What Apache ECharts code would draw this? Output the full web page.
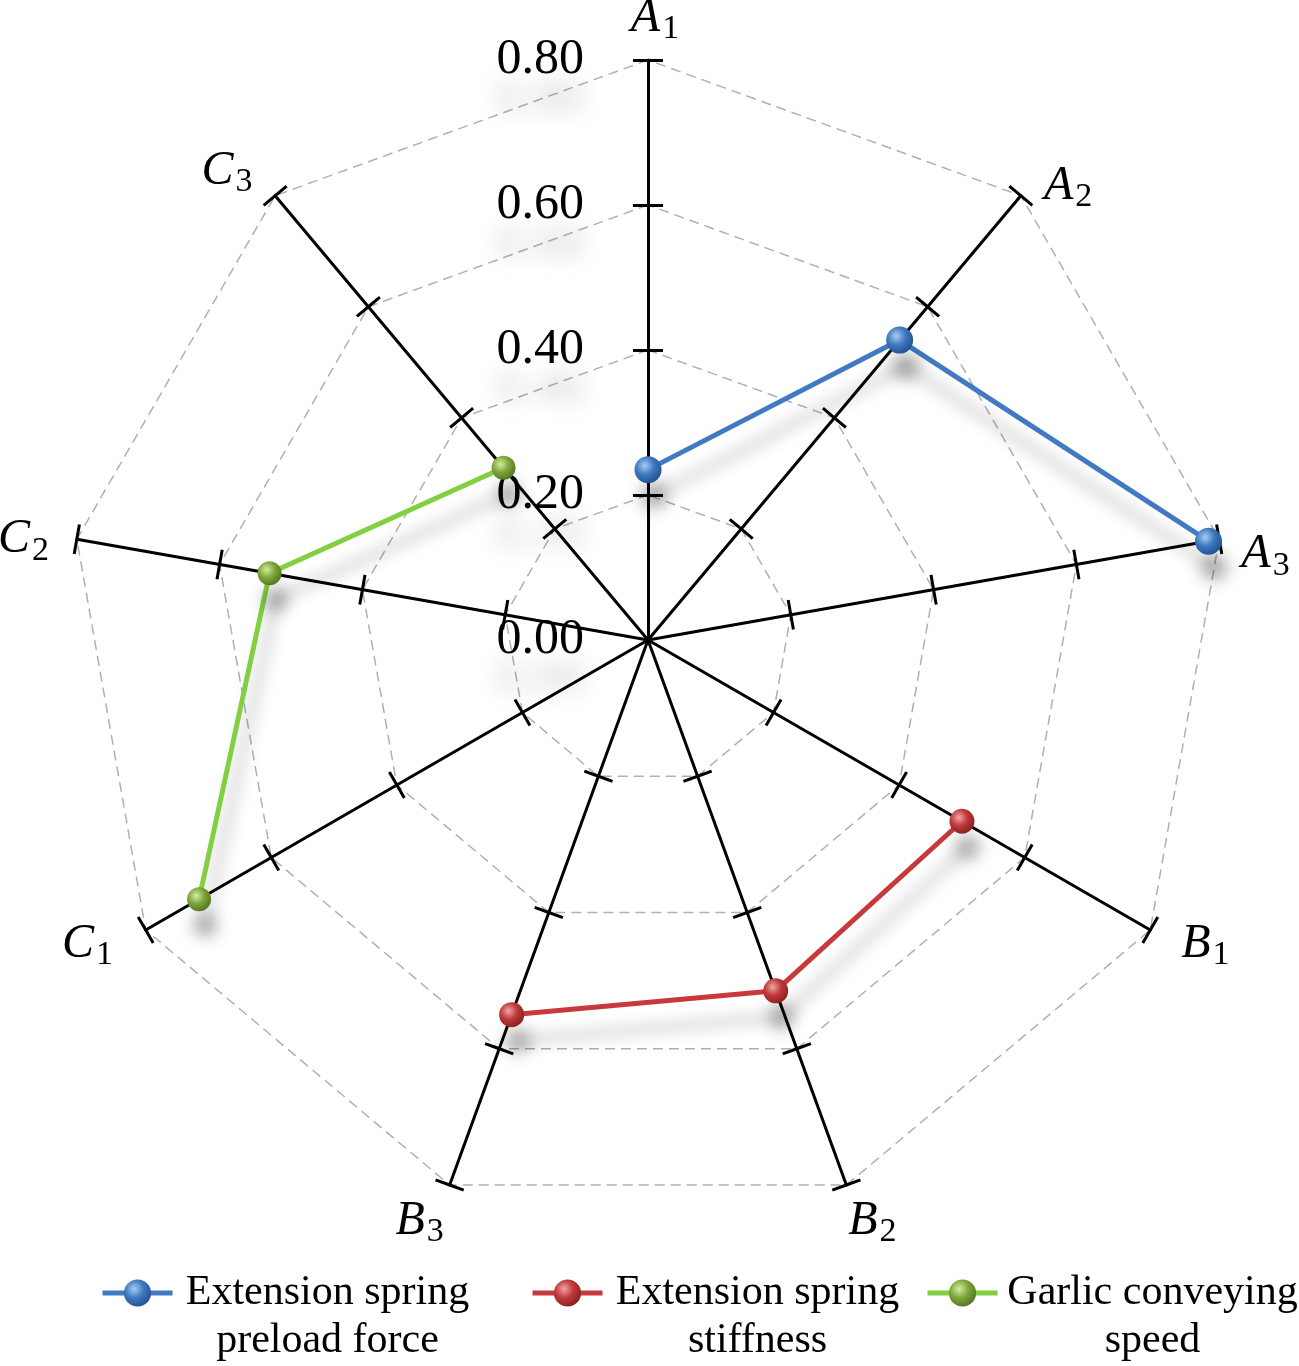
<!DOCTYPE html>
<html><head><meta charset="utf-8">
<script src="https://cdn.jsdelivr.net/npm/echarts@6/dist/echarts.min.js"></script>
<style>html,body{margin:0;padding:0;background:#fff}#c{width:1299px;height:1366px}</style>
</head><body><div id="c"></div>
<script>
// ---- data ----
const indicators = ['A1', 'A2', 'A3', 'B1', 'B2', 'B3', 'C1', 'C2', 'C3'];
const tickValues = [0.2, 0.4, 0.6, 0.8];
const seriesNames = ['Extension spring\npreload force', 'Extension spring\nstiffness', 'Garlic conveying\nspeed'];
const preloadForce    = [0.235, 0.54, 0.785, null, null, null, null, null, null];
const springStiffness = [null, null, null, 0.50, 0.515, 0.55, null, null, null];
const conveyingSpeed  = [null, null, null, null, null, null, 0.715, 0.53, 0.31];

// ---- layout / style ----
const FONT = "'Liberation Serif','Times New Roman',serif";
const CENTER = [648, 640];
const RADIUS = 580;
const MAXV = 0.8;
// small per-label nudges of the axis names (px, [dx, dy])
const nameNudge = [[7, 4], [19, 26], [3, 25], [17, -6], [11, -3], [-15, -3], [-20, -6], [-10, 10], [-20, 11]];

function nudgePadding(d) {
  const dx = d[0], dy = d[1];
  return [Math.max(0, 2 * dy), Math.max(0, -2 * dx), Math.max(0, -2 * dy), Math.max(0, 2 * dx)];
}

// radar lays indicators counter-clockwise: reorder so they read clockwise
const order = [0].concat(indicators.map((_, i) => i).slice(1).reverse());

function ball(c0, c1, c2) {
  return { type: 'radial', x: 0.38, y: 0.35, r: 0.75,
    colorStops: [{ offset: 0, color: c0 }, { offset: 0.45, color: c1 }, { offset: 1, color: c2 }] };
}
const shadow = { shadowColor: 'rgba(0,0,0,0.3)', shadowBlur: 16, shadowOffsetX: 6, shadowOffsetY: 26 };

const radarInd = order.map((k, i) => ({
  name: indicators[k], min: 0, max: MAXV,
  axisLabel: { show: i === 0 },
  nameTextStyle: { padding: nudgePadding(nameNudge[k]) }
}));
const radarInd2 = order.map(k => ({ name: indicators[k], min: 0, max: MAXV }));

const chart = echarts.init(document.getElementById('c'), null, { renderer: 'canvas' });

function legendFor(i, left) {
  return {
    data: [seriesNames[i]], left: left, top: 1272, padding: 0,
    itemWidth: 70, itemHeight: 34, selectedMode: false,
    lineStyle: { width: 5 },
    formatter: n => n.split('\n').map(s => '{a|' + s + '}').join('\n'),
    textStyle: {
      color: '#000', fontFamily: FONT, fontSize: 42, padding: [48, 0, 0, 0],
      rich: { a: { width: 300, align: 'center', fontFamily: FONT, fontSize: 42, lineHeight: 48, color: '#000' } }
    }
  };
}

chart.setOption({
  backgroundColor: '#fff',
  animation: false,
  radar: [{
    center: CENTER, radius: RADIUS, startAngle: 90, splitNumber: 4, shape: 'polygon',
    indicator: radarInd,
    nameGap: 44,
    axisName: {
      color: '#000', fontFamily: FONT, fontSize: 48, align: 'center', verticalAlign: 'middle',
      formatter: n => '{i|' + n[0] + '}{s|' + n.slice(1) + '}',
      rich: {
        i: { fontStyle: 'italic', fontFamily: FONT, fontSize: 48, lineHeight: 52, color: '#000', verticalAlign: 'top' },
        s: { fontFamily: FONT, fontSize: 34, lineHeight: 34, padding: [24, 0, 0, 2], color: '#000', verticalAlign: 'bottom' }
      }
    },
    axisLine: { show: true, lineStyle: { color: '#000', width: 3 } },
    axisTick: { show: true, length: 15, customValues: tickValues, lineStyle: { color: '#000', width: 3 } },
    axisLabel: {
      show: false, margin: 64, color: '#000', fontFamily: FONT, fontSize: 50, padding: [10, 0, 0, 0],
      formatter: v => Number(v).toFixed(2),
      textShadowColor: 'rgba(0,0,0,0.22)', textShadowBlur: 22, textShadowOffsetY: 40
    },
    splitLine: { show: true, lineStyle: { color: '#b0b0b0', width: 1.5, type: [10, 6] } },
    splitArea: { show: false }
  }, {
    center: CENTER, radius: RADIUS, startAngle: 90, splitNumber: 4, shape: 'polygon',
    indicator: radarInd2,
    axisName: { show: false },
    axisLine: { show: false },
    axisTick: { show: true, length: -15, customValues: tickValues, lineStyle: { color: '#000', width: 3 } },
    axisLabel: { show: false },
    splitLine: { show: false },
    splitArea: { show: false }
  }],
  polar: { center: CENTER, radius: RADIUS },
  angleAxis: { type: 'category', data: indicators, startAngle: 90, clockwise: true, boundaryGap: false, show: false },
  radiusAxis: { type: 'value', min: 0, max: MAXV, show: false },
  legend: [legendFor(0, 100), legendFor(1, 530), legendFor(2, 925)],
  series: [{
    name: seriesNames[0], type: 'line', coordinateSystem: 'polar', z: 5,
    data: preloadForce, connectNulls: false, symbol: 'circle', symbolSize: 27,
    lineStyle: Object.assign({ color: '#4179c2', width: 5 }, shadow),
    itemStyle: Object.assign({ color: ball('#a9ccf2', '#3f79c0', '#1d4a86') }, shadow)
  }, {
    name: seriesNames[1], type: 'line', coordinateSystem: 'polar', z: 5,
    data: springStiffness, connectNulls: false, symbol: 'circle', symbolSize: 25,
    lineStyle: Object.assign({ color: '#c7393a', width: 5 }, shadow),
    itemStyle: Object.assign({ color: ball('#f0a6a6', '#c0393b', '#7c1c1e') }, shadow)
  }, {
    name: seriesNames[2], type: 'line', coordinateSystem: 'polar', z: 5,
    data: conveyingSpeed, connectNulls: false, symbol: 'circle', symbolSize: 24,
    lineStyle: Object.assign({ color: '#82d042', width: 5 }, shadow),
    itemStyle: Object.assign({ color: ball('#d3eea0', '#7fa63c', '#4d6b1e') }, shadow)
  }]
});
</script>
</body></html>
